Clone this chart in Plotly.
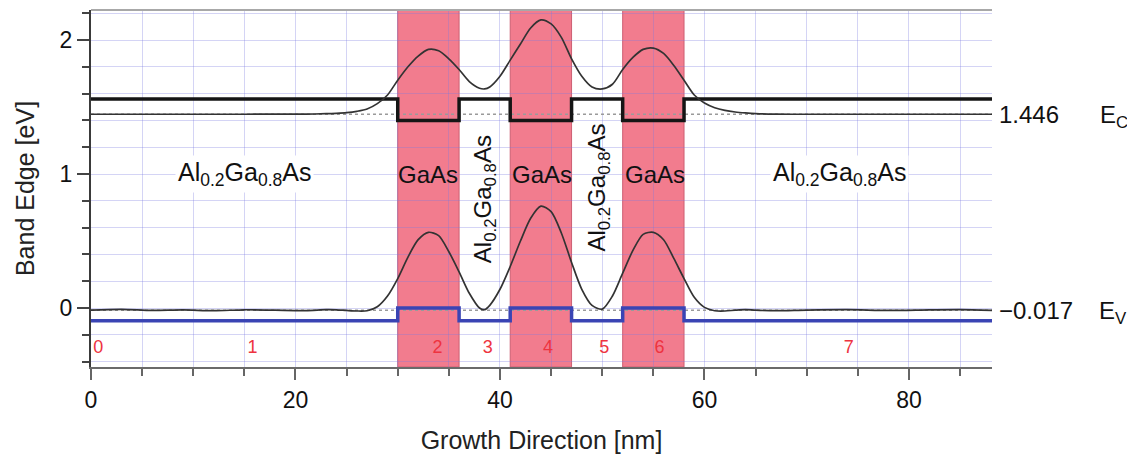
import plotly.graph_objects as go

# ---------------- data ----------------
# layer boundaries [nm] and band edges per layer [eV]
layer_bounds = [0, 30, 36, 41, 47, 52, 58, 88.12]
ec_layers = [1.56, 1.40, 1.56, 1.40, 1.56, 1.40, 1.56]
ev_layers = [-0.095, 0.0, -0.095, 0.0, -0.095, 0.0, -0.095]

# GaAs wells (start, end) [nm]
well_start = [30, 41, 52]
well_end = [36, 47, 58]

# eigen energies [eV]
e_c = 1.446
e_v = -0.017

# probability densities drawn at eigen energies
wf_x = [0, 3, 6, 9, 12, 15, 18, 21, 23, 24, 25, 26, 27, 28, 29, 30, 31, 32, 33, 34,
        35, 36, 37, 38, 38.5, 39, 40, 41, 42, 43, 44, 45, 46, 47, 48, 49, 50, 51, 52,
        53, 54, 55, 56, 57, 58, 59, 60, 61, 62, 63, 64, 65, 67, 70, 74, 78, 82, 85, 88.12]
cb_wf = [1.446, 1.446, 1.446, 1.446, 1.446, 1.446, 1.447, 1.447, 1.450, 1.453, 1.458,
         1.468, 1.485, 1.525, 1.59, 1.70, 1.80, 1.88, 1.93, 1.92, 1.86, 1.78, 1.69,
         1.64, 1.635, 1.65, 1.73, 1.85, 1.97, 2.09, 2.15, 2.12, 2.02, 1.86, 1.73, 1.65,
         1.635, 1.67, 1.78, 1.87, 1.93, 1.94, 1.90, 1.81, 1.70, 1.59, 1.53, 1.495, 1.475,
         1.463, 1.456, 1.451, 1.447, 1.446, 1.446, 1.446, 1.446, 1.446, 1.446]
vb_wf = [-0.015, -0.010, -0.018, -0.014, -0.020, -0.013, -0.016, -0.019, -0.012, -0.013,
         -0.018, -0.022, -0.020, 0.01, 0.09, 0.22, 0.38, 0.51, 0.565, 0.54, 0.42, 0.27,
         0.11, 0.0, -0.012, 0.02, 0.14, 0.31, 0.50, 0.67, 0.76, 0.72, 0.56, 0.34, 0.14,
         0.02, -0.008, 0.09, 0.26, 0.43, 0.55, 0.565, 0.51, 0.37, 0.22, 0.08, 0.005, -0.02,
         -0.022, -0.016, -0.012, -0.016, -0.020, -0.015, -0.012, -0.018, -0.014, -0.012,
         -0.017]

# region number labels
region_num = ["0", "1", "2", "3", "4", "5", "6", "7"]
region_num_x = [0.7, 15.8, 33.9, 38.8, 44.7, 50.2, 55.6, 74.1]
region_num_y = -0.30

# material labels
mat_text = ["Al<sub>0.2</sub>Ga<sub>0.8</sub>As", "GaAs", "GaAs", "GaAs",
            "Al<sub>0.2</sub>Ga<sub>0.8</sub>As"]
mat_x = [15.0, 33.0, 44.1, 55.2, 73.2]
mat_y = [1.0, 1.0, 1.0, 1.0, 1.0]
rot_text = ["Al<sub>0.2</sub>Ga<sub>0.8</sub>As", "Al<sub>0.2</sub>Ga<sub>0.8</sub>As"]
rot_x = [38.5, 49.6]
rot_y = [0.81, 0.90]

FONT = "Liberation Sans, Arial, Helvetica, sans-serif"

fig = go.Figure()

# GaAs wells
for xs, xe in zip(well_start, well_end):
    fig.add_vrect(x0=xs, x1=xe, fillcolor="#F27C8E", opacity=1, layer="below",
                  line=dict(color="rgb(205,95,115)", width=1))

# eigen-energy dotted lines
fig.add_trace(go.Scatter(x=[layer_bounds[0], layer_bounds[-1]], y=[e_c, e_c], mode="lines",
                         line=dict(color="#9a9a9a", width=1.5, dash="dot"), hoverinfo="skip"))
fig.add_trace(go.Scatter(x=[layer_bounds[0], layer_bounds[-1]], y=[e_v, e_v], mode="lines",
                         line=dict(color="#9a9a9a", width=1.5, dash="dot"), hoverinfo="skip"))

# band edges (step profiles)
fig.add_trace(go.Scatter(x=layer_bounds, y=ec_layers + [ec_layers[-1]], mode="lines",
                         line=dict(color="#151515", width=3.5, shape="hv")))
fig.add_trace(go.Scatter(x=layer_bounds, y=ev_layers + [ev_layers[-1]], mode="lines",
                         line=dict(color="#3a44b4", width=3.5, shape="hv")))

# wave functions
fig.add_trace(go.Scatter(x=wf_x, y=cb_wf, mode="lines",
                         line=dict(color="#333333", width=1.7, shape="spline", smoothing=0.8)))
fig.add_trace(go.Scatter(x=wf_x, y=vb_wf, mode="lines",
                         line=dict(color="#333333", width=1.7, shape="spline", smoothing=0.8)))

# region numbers
fig.add_trace(go.Scatter(x=region_num_x, y=[region_num_y] * len(region_num), mode="text",
                         text=region_num, textposition="middle center",
                         textfont=dict(color="#EE3340", size=18, family=FONT)))

ann = []
for t, x, y in zip(mat_text, mat_x, mat_y):
    white = "Al" in t
    ann.append(dict(x=x, y=y, xref="x", yref="y", text=t, showarrow=False,
                    font=dict(size=25 if white else 24, color="#111", family=FONT),
                    bgcolor="white" if white else None, borderpad=2))
for t, x, y in zip(rot_text, rot_x, rot_y):
    ann.append(dict(x=x, y=y, xref="x", yref="y", text=t, showarrow=False, textangle=-90,
                    font=dict(size=24, color="#111", family=FONT)))

# eigen-energy labels at right
ann.append(dict(x=1.006, y=e_c, xref="paper", yref="y", text=f"{e_c:.3f}", showarrow=False,
                xanchor="left", yanchor="middle", font=dict(size=24, color="#111", family=FONT)))
ann.append(dict(x=1.118, y=e_c - 0.02, xref="paper", yref="y", text="E<sub>C</sub>", showarrow=False,
                xanchor="left", yanchor="middle", font=dict(size=24, color="#111", family=FONT)))
ann.append(dict(x=1.006, y=e_v, xref="paper", yref="y", text="\u2212" + f"{abs(e_v):.3f}",
                showarrow=False, xanchor="left", yanchor="middle",
                font=dict(size=24, color="#111", family=FONT)))
ann.append(dict(x=1.116, y=e_v - 0.02, xref="paper", yref="y", text="E<sub>V</sub>", showarrow=False,
                xanchor="left", yanchor="middle", font=dict(size=24, color="#111", family=FONT)))

# top frame line
shapes = [dict(type="line", xref="paper", yref="paper", x0=0, x1=1, y0=1, y1=1,
               line=dict(color="#a8a8a8", width=2))]

grid_c = "rgba(120,120,225,0.32)"
# the page body adds an 8px offset, so the figure is made 8px smaller on each side
fig.update_layout(
    width=1127, height=449,
    margin=dict(l=83, r=143, t=2, b=90),
    paper_bgcolor="white", plot_bgcolor="white",
    showlegend=False,
    font=dict(family=FONT, color="#111"),
    annotations=ann,
    shapes=list(fig.layout.shapes) + shapes,
    xaxis=dict(range=[0, 88.12], tick0=0, dtick=20, ticks="outside", ticklen=11, tickwidth=1.5,
               tickcolor="#666", showline=True, linecolor="#6a6a6a", linewidth=2,
               showgrid=True, gridcolor=grid_c, gridwidth=1, zeroline=False,
               tickfont=dict(size=23, family=FONT, color="#111"),
               minor=dict(dtick=5, ticks="outside", ticklen=7, tickcolor="#666", tickwidth=1.5,
                          showgrid=True, gridcolor=grid_c, gridwidth=1),
               title=dict(text="Growth Direction [nm]", font=dict(size=25, family=FONT, color="#222"),
                          standoff=20)),
    yaxis=dict(range=[-0.44, 2.224], tick0=0, dtick=1, ticks="outside", ticklen=12, tickwidth=1.5,
               tickcolor="#444", showline=True, linecolor="#3a3a3a", linewidth=2,
               showgrid=True, gridcolor=grid_c, gridwidth=1, zeroline=False,
               tickfont=dict(size=23, family=FONT, color="#111"),
               minor=dict(dtick=0.2, ticks="outside", ticklen=7, tickcolor="#444", tickwidth=1.5,
                          showgrid=True, gridcolor=grid_c, gridwidth=1),
               title=dict(text="Band Edge [eV]", font=dict(size=25, family=FONT, color="#222"),
                          standoff=18)),
)

fig.write_html("out.html")
